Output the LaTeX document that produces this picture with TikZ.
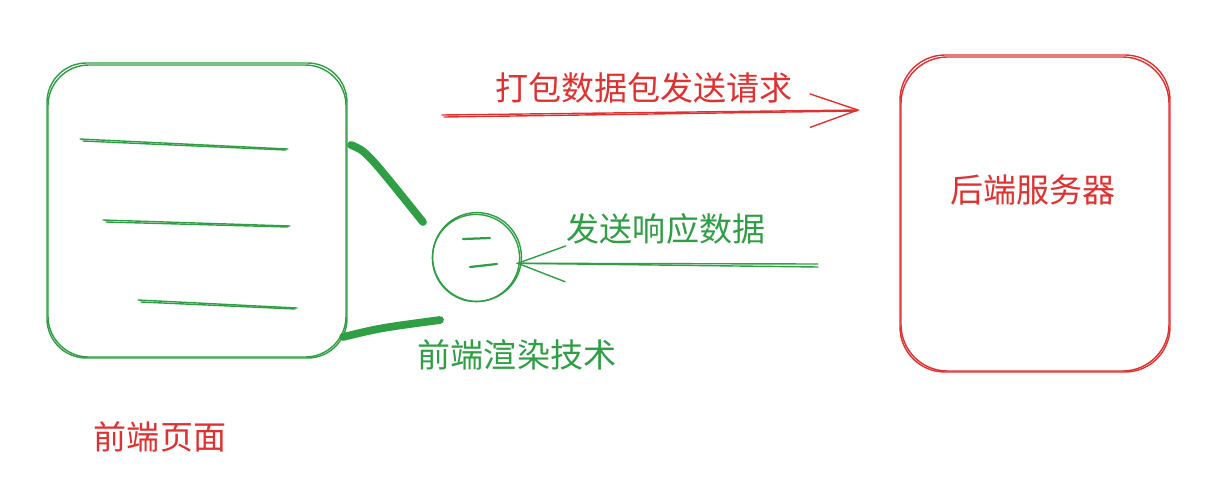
\documentclass[tikz,border=0pt]{standalone}
\usepackage{fontspec}
\newfontfamily\cjk{Noto Sans CJK SC}
\usetikzlibrary{calc}
\usetikzlibrary{arrows.meta}
\definecolor{sketchred}{HTML}{E03131}
\definecolor{sketchgreen}{HTML}{2F9E44}

\begin{document}
\begin{tikzpicture} [x=0.025cm, y=-0.025cm, line cap=round, line join=round,
  lbl/.style={font=\cjk\fontsize{23.5}{28}\selectfont, inner sep=0pt},
  pen/.style={line width=1pt},
  marker/.style={line width=5.5pt}]
\useasboundingbox (0,0) rectangle (1219,495);

% front-end page box
\draw[sketchgreen, pen, rounded corners=28pt] (47,63) rectangle (347,358);
\draw[sketchgreen, pen, rounded corners=29pt] (48,65) rectangle (346,357);

\foreach \xa/\ya/\xb/\yb in {80/139/288/149, 103/220/290/226, 138/300/297/308} {
  \draw[sketchgreen, pen] (\xa,\ya) -- (\xb,\yb);
  \draw[sketchgreen, pen] (\xa+3,\ya+2) -- (\xb-2,\yb+1);
}

% back-end server box
\draw[sketchred, pen, rounded corners=32pt] (900,55) rectangle (1170,372);
\draw[sketchred, pen, rounded corners=33pt] (901,57) rectangle (1169,371);

% rendering circle
\node[circle, draw=sketchgreen, pen, minimum size=2.22cm, inner sep=0pt] (render) at (477,257) {};
\node[circle, draw=sketchgreen, pen, minimum size=2.18cm, inner sep=0pt] at (476,258) {};
\draw[sketchgreen, line width=1.6pt] (463,239) -- (490,238);
\draw[sketchgreen, line width=1.6pt] (470,267) -- (497,264);

\draw[sketchgreen, marker] (351,145) .. controls (366,151) .. (423,222);
\draw[sketchgreen, marker] (343,337) .. controls (380,328) .. (440,320);

% arrows
\coordinate (reqstart) at (442,115);
\coordinate (reqend) at (860,110);
\draw[sketchred, pen, -{Straight Barb[length=1.2cm, width=0.84cm]}] (reqstart) -- (reqend);
\draw[sketchred, pen] ($(reqstart)+(2,2)$) -- ($(reqend)+(-3,1)$);

\coordinate (respstart) at (818,267);
\coordinate (resptip) at ($(render.-8)+(-6,0)$);
\draw[sketchgreen, pen, -{Straight Barb[length=1.2cm, width=0.9cm]}] (respstart) -- (resptip);
\draw[sketchgreen, pen] ($(respstart)+(0,-3)$) -- ($(resptip)+(4,0)$);

% labels
\node[lbl, text=sketchred] (req) at (644,88) {打包数据包发送请求};
\node[lbl, text=sketchgreen] (resp) at (666,229) {发送响应数据};
\node[lbl, text=sketchgreen] (tech) at (517,355) {前端渲染技术};
\node[lbl, text=sketchred] (server) at (1033,190) {后端服务器};
\node[lbl, text=sketchred] (page) at (160,437) {前端页面};
\end{tikzpicture}
\end{document}
